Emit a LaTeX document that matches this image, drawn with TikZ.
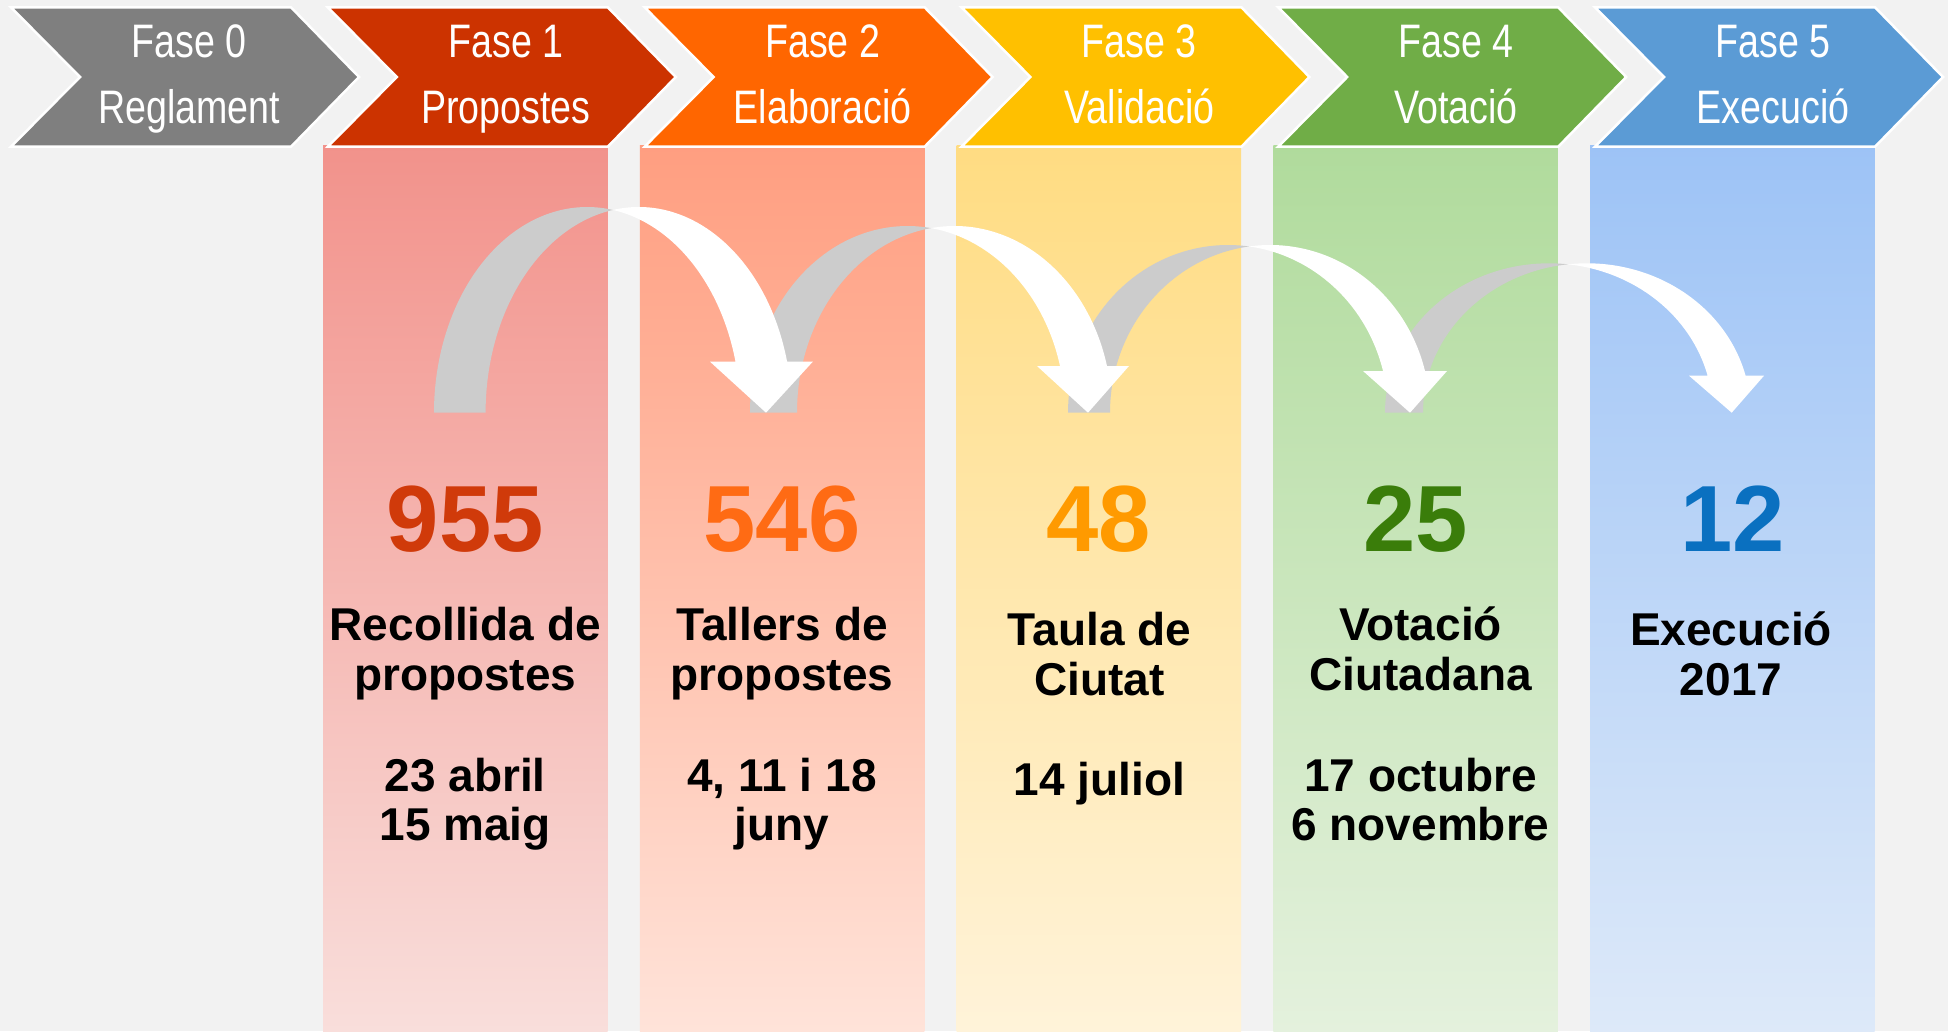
\documentclass[tikz,border=0pt]{standalone}
\usepackage{fontspec}
\setmainfont{Liberation Sans}
\newfontfamily\narrowfont[FakeStretch=0.8]{Liberation Sans}
\definecolor{bg}{HTML}{F2F2F2}
\definecolor{c0}{HTML}{7F7F7F}
\definecolor{c1}{HTML}{CC3300}
\definecolor{c2}{HTML}{FF6600}
\definecolor{c3}{HTML}{FFC000}
\definecolor{c4}{HTML}{70AD47}
\definecolor{c5}{HTML}{5B9BD5}
\definecolor{t1}{HTML}{F2928B}\definecolor{b1}{HTML}{F9DEDB}
\definecolor{t2}{HTML}{FF9E80}\definecolor{b2}{HTML}{FFE3D9}
\definecolor{t3}{HTML}{FFDC82}\definecolor{b3}{HTML}{FFF3D9}
\definecolor{t4}{HTML}{B0DB9C}\definecolor{b4}{HTML}{E4F1DD}
\definecolor{t5}{HTML}{9DC3F6}\definecolor{b5}{HTML}{DDE9F9}
\definecolor{n1}{HTML}{D03A0A}
\definecolor{n2}{HTML}{FF6B14}
\definecolor{n3}{HTML}{FF9A00}
\definecolor{n4}{HTML}{3A7D0A}
\definecolor{n5}{HTML}{0A70C0}
\definecolor{argray}{HTML}{CCCCCC}
\tikzset{
  chev/.style={draw=white, line width=2.5pt, line join=miter},
  phase/.style={font=\narrowfont\fontsize{47}{50}\selectfont, text=white, anchor=base, inner sep=0pt},
  big/.style={font=\bfseries\fontsize{94}{100}\selectfont, anchor=base, inner sep=0pt},
  body/.style={font=\bfseries\fontsize{46}{50}\selectfont, anchor=base, inner sep=0pt, text=black},
  backpart/.style={fill=argray},
  frontpart/.style={fill=white},
}
% #1 outer foot x, #2 shaft width, #3 arch height, #4 head-base height,
% #5 inner shaft x at head base, #6 head left, #7 head right, #8 tip x
\newcommand\phasearrowback[5]{%
  \pgfmathsetmacro\ub{sqrt(1-(#4/#3)^2)}%
  \pgfmathsetmacro\rx{(#5-#1)/(1+\ub)}%
  \pgfmathsetmacro\ca{acos(#2/(2*\rx))}%
  \fill[backpart] (#1,412.7) arc[start angle=180, end angle={360-\ca}, x radius=\rx, y radius=#3]
     arc[start angle={180+\ca}, end angle=180, x radius=\rx, y radius=#3] -- cycle;
}
\newcommand\phasearrowfront[8]{%
  \pgfmathsetmacro\ub{sqrt(1-(#4/#3)^2)}%
  \pgfmathsetmacro\rx{(#5-#1)/(1+\ub)}%
  \pgfmathsetmacro\ca{acos(#2/(2*\rx))}%
  \pgfmathsetmacro\hb{360-asin(#4/#3)}%
  \fill[frontpart] (#5,412.7-#4) arc[start angle=\hb, end angle={360-\ca}, x radius=\rx, y radius=#3]
     arc[start angle={180+\ca}, end angle=\hb, x radius=\rx, y radius=#3]
     -- (#7,412.7-#4) -- (#8,412.7) -- (#6,412.7-#4) -- cycle;
}
\begin{document}
\begin{tikzpicture}[x=1pt,y=-1pt]
\useasboundingbox (0,0) rectangle (1948,1031);
\fill[bg] (0,0) rectangle (1948,1031);
% columns
\foreach \k in {1,...,5}{
  \pgfmathsetmacro\L{323+316.8*(\k-1)}
  \shade[top color=t\k, bottom color=b\k] (\L,145) rectangle ++(284.5,886);
}
% chevrons
\foreach \k/\a/\b in {0/{Fase 0}/Reglament, 1/{Fase 1}/Propostes, 2/{Fase 2}/Elaboració, 3/{Fase 3}/Validació, 4/{Fase 4}/Votació, 5/{Fase 5}/Execució}{
  \pgfmathsetmacro\X{11+316.8*\k}
  \draw[chev, fill=c\k] (\X,7.3) -- ++(280,0) -- ++(68,69.7) -- ++(-68,69.7) -- ++(-280,0) -- ++(69,-69.7) -- cycle;
  \node[phase] (fa\k) at (\X+178,57) {\a};
  \node[phase] (fb\k) at (\X+178,123) {\b};
}
% curved arrows: back parts, then front parts
\phasearrowback{434}{51.6}{205.7}{51}{735.5}
\phasearrowback{750}{47}{186.7}{46.7}{1060}
\phasearrowback{1068}{42}{167.7}{41.7}{1383}
\phasearrowback{1385}{38}{149.4}{37}{1707.6}
\phasearrowfront{434}{51.6}{205.7}{51}{735.5}{710}{812.8}{766}
\phasearrowfront{750}{47}{186.7}{46.7}{1060}{1037}{1129}{1088}
\phasearrowfront{1068}{42}{167.7}{41.7}{1383}{1363}{1447}{1410}
\phasearrowfront{1385}{38}{149.4}{37}{1707.6}{1689}{1764}{1731.7}
% numbers
\node[big, text=n1] (num1) at (465.25,551.7) {955};
\node[big, text=n2] (num2) at (782.05,551.7) {546};
\node[big, text=n3] (num3) at (1098.85,551.7) {48};
\node[big, text=n4] (num4) at (1415.65,551.7) {25};
\node[big, text=n5] (num5) at (1732.45,551.7) {12};
% texts
\node[body] (a1) at (465.25,640) {Recollida de};
\node[body] (b1) at (465.25,690) {propostes};
\node[body] (c1) at (465.25,791) {23 abril};
\node[body] (d1) at (465.25,840) {15 maig};
\node[body] (a2) at (782.05,640) {Tallers de};
\node[body] (b2) at (782.05,690) {propostes};
\node[body] (c2) at (782.05,791) {4, 11 i 18};
\node[body] (d2) at (782.05,840) {juny};
\node[body] (a3) at (1099.5,645) {Taula de};
\node[body] (b3) at (1099.5,695) {Ciutat};
\node[body] (c3) at (1099.5,795) {14 juliol};
\node[body] (a4) at (1420.5,640) {Votació};
\node[body] (b4) at (1420.5,690) {Ciutadana};
\node[body] (c4) at (1420.5,791) {17 octubre};
\node[body] (d4) at (1420.5,840) {6 novembre};
\node[body] (a5) at (1731,645) {Execució};
\node[body] (b5) at (1731,695) {2017};
\end{tikzpicture}
\end{document}
